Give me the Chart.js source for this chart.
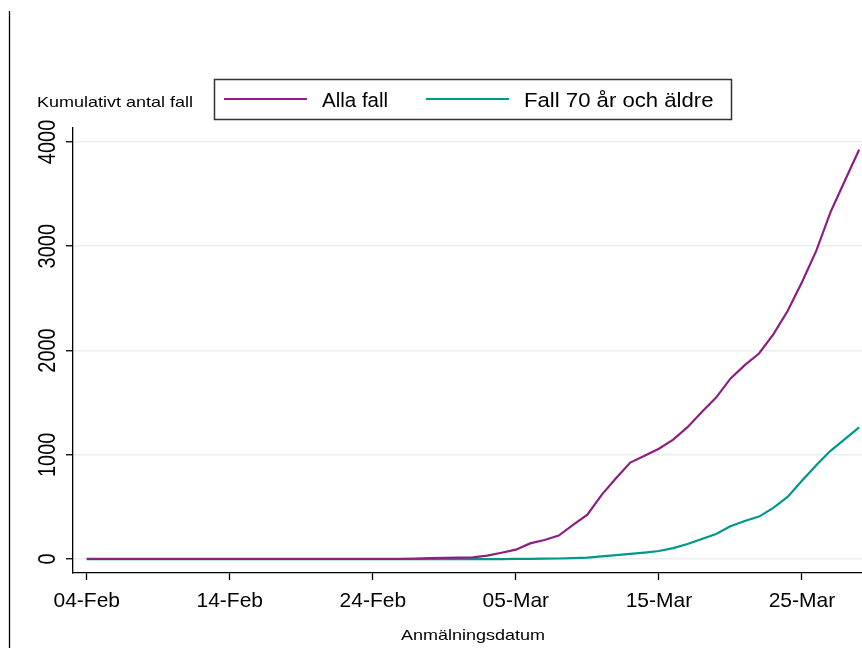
<!DOCTYPE html>
<html>
<head>
<meta charset="utf-8">
<script src="https://cdn.jsdelivr.net/npm/chart.js@4.4.1/dist/chart.umd.min.js"></script>
<style>
    html, body { margin: 0; padding: 0; background: #fff; }
    #wrap { width: 862px; height: 648px; }
</style>
</head>
<body>
<div id="wrap"><canvas id="chart" width="862" height="648"></canvas></div>
<script>
// Cumulative cases by notification date, day 0 = 04-Feb
const tickDays = [0, 10, 20, 30, 40, 50];
const tickLabels = ['04-Feb', '14-Feb', '24-Feb', '05-Mar', '15-Mar', '25-Mar'];
const yTicks = [0, 1000, 2000, 3000, 4000];

const allaFall = [
    1, 1, 1, 1, 1, 1, 1, 1, 1, 1, 1, 1, 1, 1, 1, 1, 1, 1, 1, 1, 1, 1, 1,
    3, 8, 12, 14, 16, 32, 60, 90, 150, 183, 225, 327, 425, 615, 775, 925, 990,
    1058, 1145, 1265, 1410, 1548, 1730, 1860, 1971, 2154, 2378, 2654, 2955, 3327, 3628, 3926
];
const fall70 = [
    0, 0, 0, 0, 0, 0, 0, 0, 0, 0, 0, 0, 0, 0, 0, 0, 0, 0, 0, 0, 0, 0, 0, 0, 0, 0, 0, 0, 0, 0,
    1, 2, 3, 5, 8, 14, 25, 38, 50, 62, 77, 105, 144, 192, 240, 315, 365, 407, 490, 596,
    750, 900, 1038, 1150, 1263
];
const seriesNames = ['Alla fall', 'Fall 70 år och äldre'];
const seriesColors = ['#8e1e80', '#00978b'];

const FONT = '"Liberation Sans", Arial, sans-serif';

// draw text squeezed/stretched horizontally like the original export
function stretchText(ctx, text, x, y, size, sx, align) {
    ctx.save();
    ctx.translate(x, y);
    ctx.scale(sx, 1);
    ctx.font = size + 'px ' + FONT;
    ctx.textAlign = align || 'left';
    ctx.textBaseline = 'alphabetic';
    ctx.fillStyle = '#000';
    ctx.fillText(text, 0, 0);
    ctx.restore();
}

const decorPlugin = {
    id: 'decor',
    afterDraw(chart) {
        const ctx = chart.ctx;
        const yScale = chart.scales.y;

        // left frame line
        ctx.save();
        ctx.strokeStyle = '#000';
        ctx.lineWidth = 1.3;
        ctx.beginPath();
        ctx.moveTo(9.5, 11);
        ctx.lineTo(9.5, 648);
        ctx.stroke();
        ctx.restore();

        // y tick labels, rotated
        yTicks.forEach(v => {
            const py = yScale.getPixelForValue(v);
            ctx.save();
            ctx.translate(55, py);
            ctx.scale(1.2, 1);
            ctx.rotate(-Math.PI / 2);
            ctx.font = '20px ' + FONT;
            ctx.textAlign = 'center';
            ctx.textBaseline = 'alphabetic';
            ctx.fillStyle = '#000';
            ctx.fillText(String(v), 0, 0);
            ctx.restore();
        });

        // y title
        stretchText(ctx, 'Kumulativt antal fall', 37, 107, 15, 1.2, 'left');

        // legend box
        ctx.save();
        ctx.strokeStyle = '#333';
        ctx.lineWidth = 1.5;
        ctx.strokeRect(214.5, 79.5, 517, 40);
        ctx.lineWidth = 2;
        ctx.strokeStyle = seriesColors[0];
        ctx.beginPath(); ctx.moveTo(224, 99); ctx.lineTo(307, 99); ctx.stroke();
        ctx.strokeStyle = seriesColors[1];
        ctx.beginPath(); ctx.moveTo(426, 99); ctx.lineTo(509, 99); ctx.stroke();
        ctx.restore();
        stretchText(ctx, seriesNames[0], 322, 107, 20.5, 1.0, 'left');
        stretchText(ctx, seriesNames[1], 524, 107, 20.5, 1.08, 'left');

        // x title
        stretchText(ctx, 'Anmälningsdatum', 473, 640, 15, 1.2, 'center');
    }
};

const ctx = document.getElementById('chart').getContext('2d');
new Chart(ctx, {
    type: 'line',
    data: {
        datasets: [
            {
                label: seriesNames[0],
                data: allaFall.map((v, i) => ({ x: i, y: v })),
                borderColor: seriesColors[0],
                borderWidth: 2.2,
                pointRadius: 0,
                tension: 0
            },
            {
                label: seriesNames[1],
                data: fall70.map((v, i) => ({ x: i, y: v })),
                borderColor: seriesColors[1],
                borderWidth: 2.2,
                pointRadius: 0,
                tension: 0
            }
        ]
    },
    options: {
        responsive: false,
        animation: false,
        events: [],
        layout: { padding: { top: 128, left: 0, right: 0, bottom: 0 } },
        plugins: {
            legend: { display: false },
            tooltip: { enabled: false }
        },
        scales: {
            x: {
                type: 'linear',
                min: -0.96,
                max: 54.2,
                afterBuildTicks: scale => { scale.ticks = tickDays.map(v => ({ value: v })); },
                afterFit: scale => { scale.height = 75; },
                ticks: {
                    color: '#000',
                    font: { family: FONT, size: 21 },
                    padding: 9,
                    maxRotation: 0,
                    callback: v => tickLabels[tickDays.indexOf(v)]
                },
                grid: {
                    drawOnChartArea: false,
                    drawTicks: true,
                    tickLength: 7,
                    tickColor: '#000',
                    tickWidth: 1.3
                },
                border: { display: true, color: '#000', width: 1.3 }
            },
            y: {
                type: 'linear',
                min: -134,
                max: 4134,
                afterBuildTicks: scale => { scale.ticks = yTicks.map(v => ({ value: v })); },
                afterFit: scale => { scale.width = 73; },
                ticks: { display: false },
                grid: {
                    color: '#e7eff1',
                    lineWidth: 1.5,
                    drawTicks: true,
                    tickLength: 7,
                    tickColor: '#000',
                    tickWidth: 1.3
                },
                border: { display: true, color: '#000', width: 1.3 }
            }
        }
    },
    plugins: [decorPlugin]
});
</script>
</body>
</html>
